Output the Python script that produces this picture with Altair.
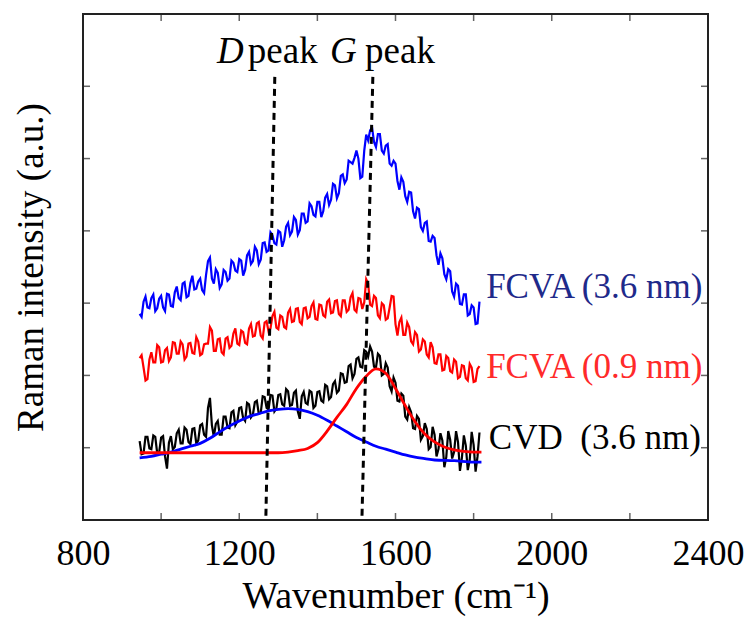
import altair as alt
import pandas as pd

FONT = "Liberation Serif"

# ---- measured spectra ----
# samples "a" sit at 945, 955, ... cm^-1 ; samples "b" sit halfway, at 950, 960, ...
SPEC_START = 945
SPEC_STEP = 10

fcva_36_a = [2.85, 3.02, 2.94, 3.07, 2.89, 3.06, 2.94, 3.13, 2.96, 3.15,
             3.07, 3.27, 3.08, 3.28, 3.19, 3.30, 3.18, 3.39, 3.63, 3.27,
             3.42, 3.26, 3.43, 3.34, 3.56, 3.43, 3.59, 3.46, 3.71, 3.58,
             3.73, 3.60, 3.84, 3.73, 3.94, 3.81, 3.98, 3.87, 4.11, 3.99,
             4.15, 4.01, 4.24, 4.13, 4.34, 4.20, 4.40, 4.27, 4.51, 4.43,
             4.63, 4.52, 4.78, 4.71, 4.95, 5.01, 5.00, 4.75, 5.33, 5.39,
             5.23, 5.34, 5.11, 5.18, 4.93, 4.97, 4.69, 4.74, 4.48, 4.54,
             4.27, 4.32, 4.05, 4.11, 3.86, 3.93, 3.66, 3.69, 3.40, 3.47,
             3.16, 3.27, 2.99, 3.12, 2.83, 2.97, 2.71, 3.02]
fcva_36_b = [2.81, 3.09, 2.93, 3.12, 2.93, 3.10, 2.89, 3.12, 2.95, 3.23,
             3.04, 3.29, 3.10, 3.38, 3.20, 3.34, 3.14, 3.58, 3.34, 3.47,
             3.21, 3.46, 3.31, 3.59, 3.45, 3.61, 3.38, 3.66, 3.54, 3.78,
             3.54, 3.83, 3.71, 3.98, 3.83, 4.00, 3.78, 4.06, 3.94, 4.19,
             3.95, 4.24, 4.11, 4.38, 4.22, 4.40, 4.19, 4.46, 4.36, 4.65,
             4.45, 4.76, 4.66, 4.97, 4.93, 5.11, 4.73, 5.11, 5.25, 5.43,
             5.16, 5.34, 5.07, 5.20, 4.90, 4.93, 4.57, 4.68, 4.40, 4.53,
             4.17, 4.30, 4.00, 4.13, 3.85, 3.90, 3.53, 3.62, 3.33, 3.44,
             3.09, 3.24, 2.98, 3.12, 2.85, 2.94, 2.72]

fcva_09_a = [2.24, 2.11, 1.95, 2.32, 2.18, 2.39, 2.19, 2.38, 2.25, 2.45,
             2.30, 2.43, 2.26, 2.45, 2.30, 2.47, 2.30, 2.44, 2.67, 2.34,
             2.50, 2.32, 2.51, 2.38, 2.58, 2.44, 2.62, 2.45, 2.65, 2.54,
             2.72, 2.55, 2.73, 2.61, 2.82, 2.66, 2.83, 2.67, 2.87, 2.74,
             2.92, 2.74, 2.93, 2.79, 2.96, 2.78, 2.98, 2.83, 3.02, 2.86,
             3.03, 2.85, 3.04, 2.88, 3.08, 2.91, 3.07, 2.92, 3.33, 2.98,
             3.10, 2.83, 3.00, 2.77, 2.94, 3.09, 2.55, 2.80, 2.56, 2.67,
             2.43, 2.56, 2.36, 2.47, 2.25, 2.39, 2.16, 2.29, 2.08, 2.24,
             2.04, 2.19, 1.98, 2.13, 1.93, 2.11, 1.92, 2.13]
fcva_09_b = [2.28, 1.93, 2.22, 2.18, 2.42, 2.18, 2.35, 2.20, 2.46, 2.30,
             2.47, 2.22, 2.44, 2.31, 2.53, 2.28, 2.43, 2.44, 2.62, 2.34,
             2.51, 2.29, 2.53, 2.41, 2.65, 2.42, 2.60, 2.43, 2.71, 2.55,
             2.74, 2.51, 2.75, 2.65, 2.88, 2.64, 2.81, 2.65, 2.92, 2.75,
             2.93, 2.71, 2.94, 2.81, 3.01, 2.77, 2.97, 2.81, 3.05, 2.87,
             3.04, 2.82, 3.04, 2.91, 3.14, 2.88, 3.06, 3.01, 3.27, 2.96,
             3.07, 2.79, 2.97, 2.79, 3.10, 2.71, 2.74, 2.56, 2.73, 2.47,
             2.60, 2.33, 2.50, 2.29, 2.46, 2.17, 2.29, 2.07, 2.27, 2.06,
             2.22, 1.96, 2.14, 1.96, 2.16, 1.91, 2.09]

cvd_36_a = [1.09, 0.92, 1.15, 0.98, 1.15, 0.94, 1.16, 0.71, 1.16, 1.01,
            1.25, 1.06, 1.25, 1.05, 1.27, 1.10, 1.33, 1.15, 1.69, 1.15,
            1.37, 1.18, 1.43, 1.27, 1.51, 1.36, 1.56, 1.37, 1.60, 1.46,
            1.65, 1.48, 1.70, 1.53, 1.72, 1.54, 1.74, 1.58, 1.78, 1.59,
            1.79, 1.40, 1.77, 1.60, 1.77, 1.58, 1.78, 1.63, 1.85, 1.70,
            1.92, 1.79, 2.02, 1.91, 2.15, 2.02, 2.25, 2.11, 2.33, 2.40,
            2.12, 2.30, 2.00, 2.17, 1.85, 1.97, 1.65, 1.75, 1.43, 1.56,
            1.27, 1.44, 1.11, 1.34, 0.98, 1.29, 0.88, 1.20, 0.73, 1.23,
            0.85, 1.23, 0.68, 1.17, 0.69, 1.22, 0.67, 1.21]
cvd_36_b = [0.91, 1.15, 0.99, 1.17, 0.92, 1.14, 0.88, 1.07, 0.98, 1.20,
            1.06, 1.28, 1.08, 1.26, 1.06, 1.31, 1.18, 1.55, 1.31, 1.33,
            1.18, 1.43, 1.28, 1.49, 1.31, 1.55, 1.41, 1.62, 1.42, 1.63,
            1.47, 1.71, 1.55, 1.73, 1.50, 1.73, 1.60, 1.81, 1.58, 1.76,
            1.50, 1.71, 1.62, 1.79, 1.55, 1.77, 1.65, 1.87, 1.67, 1.88,
            1.76, 2.03, 1.90, 2.13, 1.96, 2.23, 2.12, 2.35, 2.26, 2.33,
            2.11, 2.27, 2.02, 2.11, 1.78, 1.90, 1.64, 1.72, 1.39, 1.49,
            1.26, 1.40, 1.16, 1.26, 1.01, 1.18, 0.98, 1.10, 0.87, 1.11,
            0.94, 1.08, 0.86, 1.03, 0.83, 1.04, 0.88]

# ---- fitted peaks of the CVD spectrum ----
d_fit_w = [945, 975, 1000, 1025, 1050, 1075, 1100, 1125, 1150, 1175,
           1200, 1225, 1250, 1275, 1300, 1325, 1350, 1375, 1400, 1425,
           1450, 1475, 1500, 1525, 1550, 1575, 1600, 1625, 1650, 1675,
           1700, 1750, 1800, 1820]
d_fit_v = [0.86, 0.88, 0.91, 0.94, 0.98, 1.02, 1.06, 1.13, 1.22, 1.30,
           1.37, 1.43, 1.47, 1.51, 1.53, 1.54, 1.53, 1.50, 1.45, 1.38,
           1.30, 1.22, 1.14, 1.08, 1.02, 0.98, 0.94, 0.90, 0.87, 0.85,
           0.83, 0.82, 0.80, 0.80]

g_fit_w = [945, 1000, 1100, 1200, 1300, 1325, 1350, 1375, 1400, 1425,
           1450, 1475, 1500, 1525, 1550, 1575, 1600, 1625, 1650, 1675,
           1700, 1725, 1750, 1775, 1800, 1820]
g_fit_v = [0.93, 0.93, 0.93, 0.93, 0.93, 0.94, 0.96, 0.99, 1.07, 1.23,
           1.42, 1.60, 1.82, 1.99, 2.09, 2.03, 1.82, 1.58, 1.36, 1.19,
           1.08, 1.01, 0.97, 0.95, 0.94, 0.94]

# ---- peak marker lines (slightly slanted in the original) ----
peak_w_top = [1291, 1542]
peak_w_bottom = [1268, 1514]
peak_v_top = [6.13, 6.13]
peak_v_bottom = [0.0, 0.0]

# ---- text ----
series_labels = ["FCVA (3.6 nm)", "FCVA (0.9 nm)", "CVD\u00a0 (3.6 nm)"]
series_label_w = [1832, 1832, 1839]
series_label_v = [3.07, 1.96, 0.98]
series_label_color = ["#1f2a8a", "#ff2a2a", "#000000"]

peak_italic = ["D", "G"]
peak_italic_w = [1143, 1432]
peak_word = ["peak", "peak"]
peak_word_w = [1222, 1522]
peak_label_v = 6.32

x_tick_values = [800, 1000, 1200, 1400, 1600, 1800, 2000, 2200, 2400]
x_label_values = [800, 1200, 1600, 2000, 2400]
y_tick_values = [0, 1, 2, 3, 4, 5, 6, 7]


# ---- build tables ----
def spectrum(a_vals, b_vals):
    rows = []
    for i, v in enumerate(a_vals):
        rows.append({"w": SPEC_START + SPEC_STEP * i, "v": v})
    for i, v in enumerate(b_vals):
        rows.append({"w": SPEC_START + SPEC_STEP * i + SPEC_STEP / 2, "v": v})
    return pd.DataFrame(rows).sort_values("w").reset_index(drop=True)


df_blue = spectrum(fcva_36_a, fcva_36_b)
df_red = spectrum(fcva_09_a, fcva_09_b)
df_black = spectrum(cvd_36_a, cvd_36_b)
df_d = pd.DataFrame({"w": d_fit_w, "v": d_fit_v})
df_g = pd.DataFrame({"w": g_fit_w, "v": g_fit_v})
df_rules = pd.DataFrame({"w": peak_w_top, "w2": peak_w_bottom,
                         "v": peak_v_top, "v2": peak_v_bottom})
df_lab = pd.DataFrame({"w": series_label_w, "v": series_label_v,
                       "label": series_labels, "color": series_label_color})
df_it = pd.DataFrame({"w": peak_italic_w, "v": [peak_label_v] * 2, "label": peak_italic})
df_word = pd.DataFrame({"w": peak_word_w, "v": [peak_label_v] * 2, "label": peak_word})
df_xt = pd.DataFrame([{"w": w, "v": v} for w in x_tick_values for v in (0, 7)])
df_yt = pd.DataFrame([{"w": w, "v": v} for w in (800, 2400) for v in y_tick_values])

xs = alt.Scale(domain=[800, 2400], nice=False, zero=False)
ys = alt.Scale(domain=[0, 7], nice=False, zero=False)

x_axis = alt.Axis(values=x_label_values, format="d", title="Wavenumber (cm\u207b\u00b9)",
                  ticks=False, tickSize=0, domain=False, grid=False,
                  labelFont=FONT, labelFontSize=36, labelColor="black",
                  labelPadding=16, labelFlush=False, labelOverlap=False,
                  titleFont=FONT, titleFontSize=38, titleFontWeight="normal",
                  titleColor="black", titlePadding=6)
y_axis = alt.Axis(labels=False, ticks=False, tickSize=0, domain=False, grid=False,
                  title="Raman intensity (a.u.)",
                  titleFont=FONT, titleFontSize=37, titleFontWeight="normal",
                  titleColor="black", titlePadding=33)

X = alt.X("w:Q", scale=xs, axis=x_axis, title="Wavenumber (cm\u207b\u00b9)")
Y = alt.Y("v:Q", scale=ys, axis=y_axis, title="Raman intensity (a.u.)")


def line(df, color, width, interp="linear"):
    return alt.Chart(df).mark_line(color=color, strokeWidth=width,
                                   interpolate=interp).encode(x=X, y=Y)


l_blue = line(df_blue, "#0000ff", 2.2)
l_red = line(df_red, "#ff0000", 2.2)
l_black = line(df_black, "#000000", 2.2)
l_d = line(df_d, "#0000ff", 2.8, "monotone")
l_g = line(df_g, "#ff0000", 2.8, "monotone")

rules = alt.Chart(df_rules).mark_rule(color="black", strokeWidth=3,
                                      strokeDash=[7, 5]).encode(
    x=X, x2="w2:Q", y=Y, y2="v2:Q")

labels = alt.Chart(df_lab).mark_text(align="left", baseline="alphabetic",
                                     font=FONT, fontSize=35).encode(
    x=X, y=Y, text="label:N", color=alt.Color("color:N", scale=None))

it = alt.Chart(df_it).mark_text(align="left", baseline="alphabetic", font=FONT,
                                fontSize=37, fontStyle="italic", color="black").encode(
    x=X, y=Y, text="label:N")
word = alt.Chart(df_word).mark_text(align="left", baseline="alphabetic", font=FONT,
                                    fontSize=37, color="black").encode(
    x=X, y=Y, text="label:N")

xt = alt.Chart(df_xt).mark_tick(orient="vertical", size=14, thickness=1.5,
                                color="#222222", clip=True).encode(x=X, y=Y)
yt = alt.Chart(df_yt).mark_tick(orient="horizontal", size=14, thickness=1.5,
                                color="#222222", clip=True).encode(x=X, y=Y)

chart = alt.layer(
    l_blue, l_red, l_black, l_d, l_g, rules, labels, it, word, xt, yt
).properties(
    width=625, height=506,
    padding={"left": 83, "top": 14, "right": 44, "bottom": 102},
    autosize=alt.AutoSizeParams(type="none"),
    background="white",
).configure_view(stroke="#222222", strokeWidth=2)

chart.save("out.html", embed_options={"renderer": "svg", "actions": False})
